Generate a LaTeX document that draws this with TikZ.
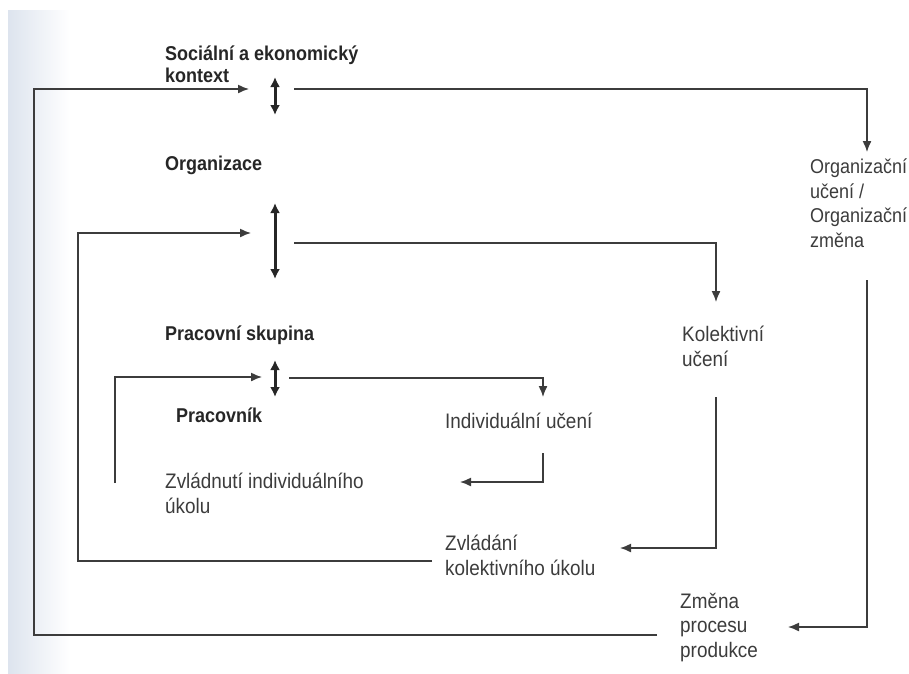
\documentclass[tikz,border=0pt]{standalone}
\usepackage{fontspec}
\setmainfont[FakeStretch=0.9]{Liberation Sans}
\usetikzlibrary{arrows.meta}
\definecolor{ink}{HTML}{3C3C3C}
\definecolor{scan}{HTML}{DDE4EE}
\tikzset{
  lbl/.style={anchor=base west, inner sep=0pt, align=left, text=ink,
    font=\fontsize{21}{24.5}\selectfont},
  head/.style={lbl, text=black!85, font=\fontsize{20}{22}\selectfont\bfseries},
  flow/.style={draw=ink, line width=1.4pt, -{Latex[length=11pt,width=9pt]}},
  both/.style={draw=black!85, line width=3pt,
    {Latex[length=10pt,width=10pt]}-{Latex[length=10pt,width=10pt]}}
}
\begin{document}
\begin{tikzpicture}[x=1pt, y=-1pt]
   \useasboundingbox (0,0) rectangle (909,673);
   \shade[left color=scan, right color=white] (8,10) rectangle (70,673);

   \node[head] (ctx) at (165,82) {Sociální a ekonomický\\kontext};
   \node[head] (org) at (165,170) {Organizace};
   \node[head] (grp) at (165,340) {Pracovní skupina};
   \node[head] (wrk) at (176,422) {Pracovník};
   \node[lbl, font=\fontsize{20}{24.5}\selectfont] (orgl) at (810,247)
      {Organizační\\učení /\\Organizační\\změna};
   \node[lbl] (koll) at (682,366) {Kolektivní\\učení};
   \node[lbl] (ind) at (445,428) {Individuální učení};
   \node[lbl] (zvi) at (165,513) {Zvládnutí individuálního\\úkolu};
   \node[lbl] (zvk) at (445,575) {Zvládání\\kolektivního úkolu};
   \node[lbl] (zpp) at (680,657) {Změna\\procesu\\produkce};

   \coordinate (c1t) at (275,77);  \coordinate (c1b) at (275,115);
   \coordinate (c2t) at (275,203); \coordinate (c2b) at (275,279);
   \coordinate (c3t) at (275,360); \coordinate (c3b) at (275,397);
   \draw[both] (c1t) -- (c1b);
   \draw[both] (c2t) -- (c2b);
   \draw[both] (c3t) -- (c3b);

   \coordinate (in1) at (249,89);   \coordinate (out1) at (294,89);
   \coordinate (in2) at (251,233);  \coordinate (out2) at (294,243);
   \coordinate (in3) at (262,377);  \coordinate (out3) at (289,378);
   \coordinate (orgin) at (867,152); \coordinate (orgout) at (867,280);
   \coordinate (kolin) at (716,302); \coordinate (kolout) at (716,397);
   \coordinate (indin) at (543,397); \coordinate (indout) at (543,453);
   \coordinate (zppin) at (788,627); \coordinate (zppout) at (657,635);
   \coordinate (zvkin) at (620,548); \coordinate (zvkout) at (432,561);
   \coordinate (zviin) at (460,482); \coordinate (zviout) at (115,483);

   \draw[flow] (out1) -| (orgin);
   \draw[flow] (orgout) |- (zppin);
   \draw[flow] (zppout) -| (34,89) -- (in1);
   \draw[flow] (out2) -| (kolin);
   \draw[flow] (kolout) |- (zvkin);
   \draw[flow] (zvkout) -| (78,233) -- (in2);
   \draw[flow] (out3) -| (indin);
   \draw[flow] (indout) |- (zviin);
   \draw[flow] (zviout) |- (in3);
  \end{tikzpicture}
\end{document}
